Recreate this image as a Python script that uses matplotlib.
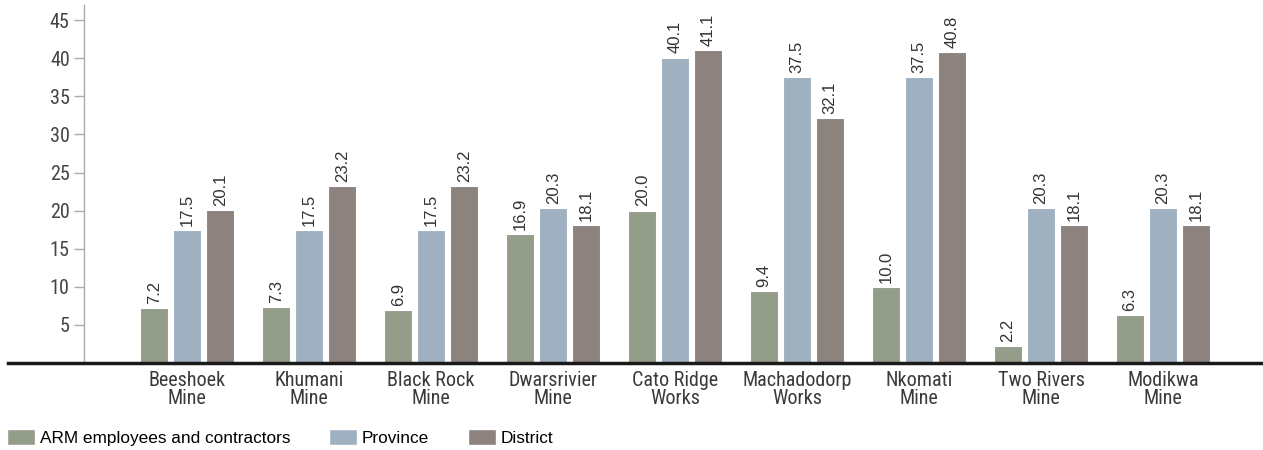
import matplotlib
matplotlib.use('Agg')
import matplotlib.pyplot as plt
from matplotlib.patches import Patch
import numpy as np

sites = ['Beeshoek\nMine', 'Khumani\nMine', 'Black Rock\nMine', 'Dwarsrivier\nMine',
         'Cato Ridge\nWorks', 'Machadodorp\nWorks', 'Nkomati\nMine', 'Two Rivers\nMine',
         'Modikwa\nMine']
arm = [7.2, 7.3, 6.9, 16.9, 20.0, 9.4, 10.0, 2.2, 6.3]
province = [17.5, 17.5, 17.5, 20.3, 40.1, 37.5, 37.5, 20.3, 20.3]
district = [20.1, 23.2, 23.2, 18.1, 41.1, 32.1, 40.8, 18.1, 18.1]
series_names = ['ARM employees and contractors', 'Province', 'District']
colors = ['#949c8a', '#9fb1c1', '#8c827e']

narrow = ['Roboto Condensed', 'DejaVu Sans']
regular = ['Liberation Sans', 'DejaVu Sans']

fig = plt.figure(figsize=(12.63, 4.5), dpi=100)
ax = fig.add_axes([8 / 1263, 87 / 450, 1 - 8 / 1263, 358 / 450])

x = np.arange(len(sites))
width = 0.23
step = 0.27
for k, vals in enumerate([arm, province, district]):
    bars = ax.bar(x + (k - 1) * step, vals, width, color=colors[k],
                  edgecolor='white', linewidth=0.8, zorder=2)
    for b, v in zip(bars, vals):
        ax.annotate('%.1f' % v, (b.get_x() + b.get_width() / 2, v),
                    xytext=(0, 3), textcoords='offset points', rotation=90,
                    ha='center', va='bottom', fontsize=12, color='#333333',
                    family=regular)

ax.set_xlim(-1.47, 8.82)
ax.set_ylim(0, 47)
ax.set_yticks([5, 10, 15, 20, 25, 30, 35, 40, 45])
ax.set_xticks(x)
ax.set_xticklabels(sites, fontsize=14.5, family=narrow, color='#3a3a3a', linespacing=0.92)

ax.spines['top'].set_visible(False)
ax.spines['right'].set_visible(False)
ax.spines['left'].set_position(('data', -0.85))
ax.spines['left'].set_color('#aaaaaa')
ax.spines['left'].set_linewidth(1)
ax.spines['bottom'].set_color('#1a1a1a')
ax.spines['bottom'].set_linewidth(2.5)
ax.spines['bottom'].set_zorder(3)
ax.tick_params(axis='y', length=7, color='#aaaaaa', width=1, pad=3,
               labelsize=14.5, labelcolor='#444444', labelfontfamily='Roboto Condensed')
ax.tick_params(axis='x', length=0, pad=6)

handles = [Patch(facecolor=c, edgecolor='white') for c in colors]
fig.legend(handles, series_names, loc='lower left', bbox_to_anchor=(3 / 1263, 0.0),
           ncol=3, frameon=False, prop={'family': regular, 'size': 12.4},
           handlelength=1.6, handleheight=1.1, handletextpad=0.3,
           columnspacing=2.25, borderaxespad=0.0, borderpad=0.25)

fig.savefig('out.png', dpi=100)
